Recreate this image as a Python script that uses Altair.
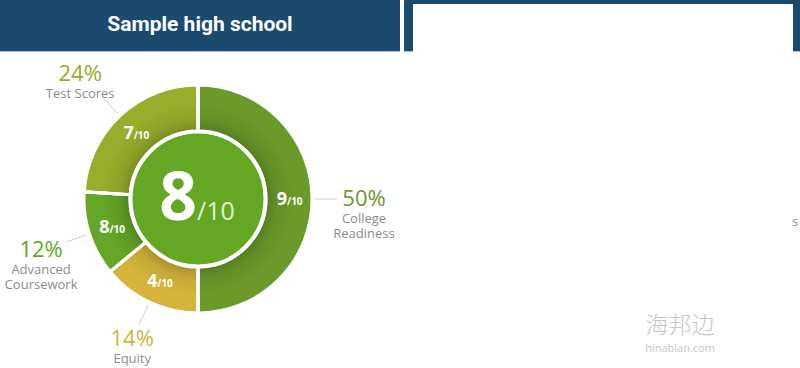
import math
import altair as alt
import pandas as pd

# ---------------- data ----------------
title = "Sample high school"
categories = ["College Readiness", "Equity", "Advanced Coursework", "Test Scores"]
name_lines = ["College\nReadiness", "Equity", "Advanced\nCoursework", "Test Scores"]
weights = [50, 14, 12, 24]          # percent weight of each component
scores = [9, 4, 8, 7]               # score out of 10
overall_score = 8
score_max = 10
watermark_cn = "海邦边"
watermark_en = "hinabian.com"

# ---------------- styles ----------------
slice_colors = ["#6b9a2a", "#d4b43a", "#64a627", "#97ad2b"]
NAVY = "#1b4a6f"
CX, CY = 198, 199
R_OUT, R_IN = 114, 68
FONT = "Open Sans"

df = pd.DataFrame({
    "category": categories,
    "name": name_lines,
    "weight": weights,
    "score": [str(s) for s in scores],
    "order": list(range(len(categories))),
})
df["pct"] = df["weight"].astype(str) + "%"
df["of"] = f"/{score_max}"

color = alt.Color("category:N", scale=alt.Scale(domain=categories, range=slice_colors), legend=None)
order = alt.Order("order:Q")
theta = alt.Theta("weight:Q", stack=True)

# positions derived from the stacked weights
base = (
    alt.Chart(df)
    .transform_window(cum="sum(weight)", sort=[alt.SortField("order")], frame=[None, 0])
    .transform_joinaggregate(total="sum(weight)")
    .transform_calculate(mid="2*PI*(datum.cum - datum.weight/2)/datum.total")
    .transform_calculate(lr="146 + 20*abs(sin(datum.mid)) + 17*max(cos(datum.mid), 0)")
    .transform_calculate(
        ix=f"{CX} + 91*sin(datum.mid)",
        iy=f"{CY} - 91*cos(datum.mid)",
        px=f"{CX} + datum.lr*sin(datum.mid)",
        py=f"{CY} - datum.lr*cos(datum.mid)",
        l1x=f"{CX} + 117*sin(datum.mid)",
        l1y=f"{CY} - 117*cos(datum.mid)",
        l2x=f"{CX} + 139*sin(datum.mid)",
        l2y=f"{CY} - 139*cos(datum.mid)",
    )
)

one = pd.DataFrame({"k": [0]})

# header bars
hdr_left = alt.Chart(one).mark_rect(color=NAVY).encode(
    x=alt.value(0), x2=alt.value(400), y=alt.value(0), y2=alt.value(51))
hdr_line = alt.Chart(one).mark_rect(color="#a9bccd").encode(
    x=alt.value(0), x2=alt.value(400), y=alt.value(51), y2=alt.value(52))
rp_top = alt.Chart(one).mark_rect(color=NAVY).encode(
    x=alt.value(404), x2=alt.value(800), y=alt.value(0), y2=alt.value(4))
rp_left = alt.Chart(one).mark_rect(color=NAVY).encode(
    x=alt.value(404), x2=alt.value(413), y=alt.value(0), y2=alt.value(51))
rp_right = alt.Chart(one).mark_rect(color=NAVY).encode(
    x=alt.value(793), x2=alt.value(800), y=alt.value(0), y2=alt.value(51))
rp_l_line = alt.Chart(one).mark_rect(color="#a9bccd").encode(
    x=alt.value(404), x2=alt.value(413), y=alt.value(51), y2=alt.value(52))
rp_r_line = alt.Chart(one).mark_rect(color="#a9bccd").encode(
    x=alt.value(793), x2=alt.value(800), y=alt.value(51), y2=alt.value(52))

title_df = pd.DataFrame({"t": [title]})
hdr_text = alt.Chart(title_df).mark_text(
    font="Roboto", fontWeight="bold", fontSize=21, color="white", baseline="middle", align="center"
).encode(x=alt.value(200), y=alt.value(25), text="t:N")

# donut
slices = alt.Chart(df).mark_arc(outerRadius=R_OUT, innerRadius=R_IN, stroke="white", strokeWidth=3).encode(
    theta=theta, color=color, order=order, x=alt.value(CX), y=alt.value(CY))

shadow = alt.Chart(one).mark_arc(
    outerRadius=96, innerRadius=R_IN,
    fill=alt.RadialGradient(
        gradient="radial", x1=0.5, y1=0.5, r1=R_IN / 192, x2=0.5, y2=0.5, r2=0.5,
        stops=[alt.GradientStop(offset=0, color="rgba(0,0,0,0.20)"),
               alt.GradientStop(offset=0.4, color="rgba(0,0,0,0.07)"),
               alt.GradientStop(offset=1, color="rgba(0,0,0,0)")],
    ),
).encode(theta=alt.value(0), theta2=alt.value(2 * math.pi), x=alt.value(CX), y=alt.value(CY))

separators = alt.Chart(df).mark_arc(
    outerRadius=R_OUT + 2, innerRadius=R_IN, fillOpacity=0, stroke="white", strokeWidth=3
).encode(theta=theta, detail="category:N", order=order, x=alt.value(CX), y=alt.value(CY))

center_df = pd.DataFrame({"s": [str(overall_score)], "of": [f"/{score_max}"]})
center = alt.Chart(center_df).mark_arc(
    outerRadius=67, innerRadius=0, fill="#63a722", stroke="white", strokeWidth=3
).encode(theta=alt.value(0), theta2=alt.value(2 * math.pi), x=alt.value(CX), y=alt.value(CY))
center_big = alt.Chart(center_df).mark_text(
    font=FONT, fontWeight="bold", fontSize=66, color="white", align="right", baseline="alphabetic", dx=-1, dy=21
).encode(x=alt.value(CX), y=alt.value(CY), text="s:N")
center_small = alt.Chart(center_df).mark_text(
    font=FONT, fontSize=25, color="#e2f2cf", align="left", baseline="alphabetic", dx=-1, dy=21
).encode(x=alt.value(CX), y=alt.value(CY), text="of:N")

# inner labels
xs = dict(scale=None, axis=None)
in_big = base.mark_text(
    font=FONT, fontWeight="bold", fontSize=18, color="white", align="right", baseline="alphabetic", dx=-2, dy=6
).encode(x=alt.X("ix:Q", **xs), y=alt.Y("iy:Q", **xs), text="score:N")
in_small = base.mark_text(
    font=FONT, fontWeight="bold", fontSize=10, color="white", align="left", baseline="alphabetic", dx=-2, dy=6
).encode(x=alt.X("ix:Q", **xs), y=alt.Y("iy:Q", **xs), text="of:N")

# leader lines and outer labels
leaders = base.mark_rule(color="#cccccc", strokeWidth=1).encode(
    x=alt.X("l1x:Q", **xs), y=alt.Y("l1y:Q", **xs), x2="l2x:Q", y2="l2y:Q")
pct = base.mark_text(font=FONT, fontSize=22, baseline="middle", align="center").encode(
    x=alt.X("px:Q", **xs), y=alt.Y("py:Q", **xs), text="pct:N", color=color)
names = base.mark_text(
    font=FONT, fontSize=13, color="#8c8c8c", baseline="top", align="center", dy=14, lineBreak="\n", lineHeight=15
).encode(x=alt.X("px:Q", **xs), y=alt.Y("py:Q", **xs), text="name:N")

# stray text at right edge and watermark
wm_df = pd.DataFrame({"cn": [watermark_cn], "en": [watermark_en], "s": ["s"]})
stray = alt.Chart(wm_df).mark_text(font=FONT, fontSize=13, color="#8c8c8c", align="left", baseline="middle").encode(
    x=alt.value(792), y=alt.value(222), text="s:N")
wm1 = alt.Chart(wm_df).mark_text(
    font="Noto Sans CJK SC", fontWeight=300, fontSize=23, color="#c6c6c6", align="center", baseline="middle"
).encode(x=alt.value(680), y=alt.value(326), text="cn:N")
wm2 = alt.Chart(wm_df).mark_text(
    font=FONT, fontSize=11, color="#c6c6c6", align="center", baseline="middle"
).encode(x=alt.value(680), y=alt.value(349), text="en:N")

chart = alt.layer(
    hdr_left, hdr_line, rp_top, rp_left, rp_right, rp_l_line, rp_r_line, hdr_text,
    slices, shadow, separators, center, center_big, center_small,
    in_big, in_small, leaders, pct, names, stray, wm1, wm2,
).properties(
    width=800, height=368, autosize=alt.AutoSizeParams(type="none"), padding=0, background="white"
).configure_view(stroke=None)

chart.save("out.html", embed_options={"renderer": "svg", "actions": False})
